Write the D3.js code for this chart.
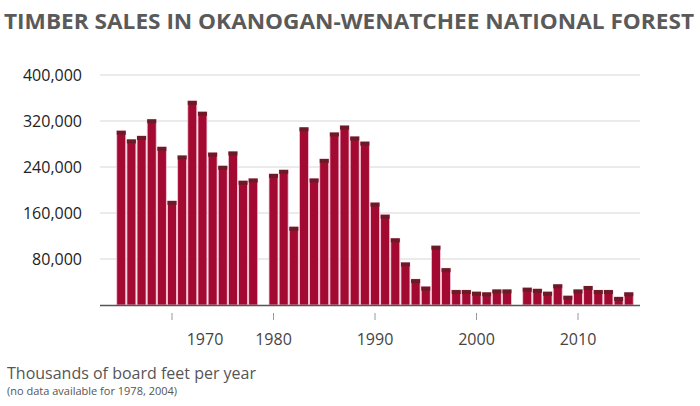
<!DOCTYPE html>
<html><head><meta charset="utf-8">
<script src="https://cdn.jsdelivr.net/npm/d3@7"></script>
<style>body{margin:0;background:#fff;font-family:"Open Sans",sans-serif}</style>
</head><body><svg id="c" width="700" height="406"></svg>
<script>
const years = d3.range(1965, 2016);
const values = [303000,288000,294000,323000,275000,181000,260000,355000,336000,265000,242000,267000,216000,220000,
null,
228000,235000,136000,309000,220000,254000,300000,312000,293000,284000,178000,
157000,116000,74000,45000,32000,103000,64000,26000,26000,23000,22000,27000,27000,
null,
30000,28000,23000,36000,16000,27000,33000,26000,26000,14000,22000];
const yTicks = [80000,160000,240000,320000,400000];
const xTicks = [1970,1980,1990,2000,2010];
const title = "TIMBER SALES IN OKANOGAN-WENATCHEE NATIONAL FOREST";

const svg = d3.select("#c");
const x = d3.scaleLinear().domain([1970,2010]).range([172,578]);
const y = d3.scaleLinear().domain([0,400000]).range([305,75]);
const bw = 9;

svg.append("text").attr("x",4).attr("y",29).attr("font-size",22).attr("font-weight","bold")
  .attr("fill","#5a5a5a").attr("textLength",690).attr("lengthAdjust","spacingAndGlyphs").text(title);

svg.selectAll(".g").data(yTicks).enter().append("line")
  .attr("x1",100).attr("x2",640).attr("y1",d=>y(d)).attr("y2",d=>y(d))
  .attr("stroke","#e4e4e4").attr("stroke-width",1.5);
svg.selectAll(".yl").data(yTicks).enter().append("text")
  .attr("x",82).attr("y",d=>y(d)+6).attr("text-anchor","end").attr("font-size",16)
  .attr("fill","#222").text(d=>d3.format(",")(d));

const data = years.map((yr,i)=>({yr,v:values[i]})).filter(d=>d.v!=null);
const g = svg.append("g");
g.selectAll("rect.b").data(data).enter().append("rect")
  .attr("x",d=>x(d.yr)-bw/2).attr("width",bw).attr("y",d=>y(d.v)).attr("height",d=>y(0)-y(d.v))
  .attr("fill","#a30a31").attr("stroke","#f7c8dc").attr("stroke-width",0.8);
g.selectAll("rect.t").data(data).enter().append("rect")
  .attr("x",d=>x(d.yr)-bw/2).attr("width",bw).attr("y",d=>y(d.v)).attr("height",4)
  .attr("fill","#6b1b26");

svg.append("line").attr("x1",100).attr("x2",640).attr("y1",305.5).attr("y2",305.5)
  .attr("stroke","#555").attr("stroke-width",1.5);
svg.selectAll(".xt").data(xTicks).enter().append("line")
  .attr("x1",d=>x(d)).attr("x2",d=>x(d)).attr("y1",313).attr("y2",320)
  .attr("stroke","#999");
svg.selectAll(".xl").data(xTicks).enter().append("text")
  .attr("x",d=>d===1970?205:x(d)).attr("y",345).attr("text-anchor","middle").attr("font-size",16)
  .attr("fill","#444").text(d=>d);

svg.append("text").attr("x",7).attr("y",379).attr("font-size",16).attr("fill","#555")
  .text("Thousands of board feet per year");
svg.append("text").attr("x",7).attr("y",395).attr("font-size",11).attr("fill","#555")
  .text("(no data available for 1978, 2004)");
</script></body></html>
